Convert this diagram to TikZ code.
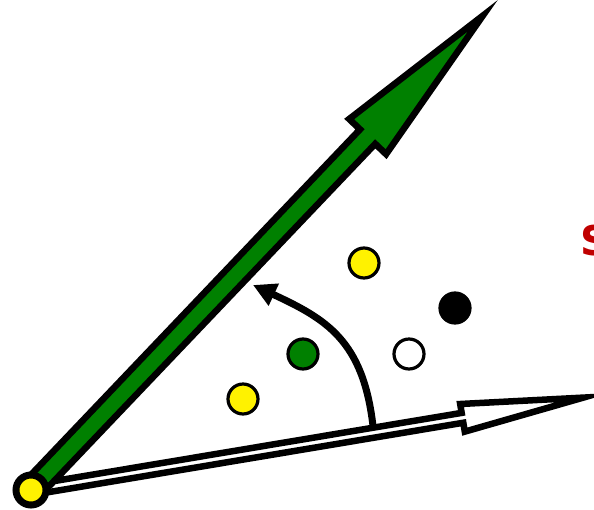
\documentclass[tikz,border=0pt]{standalone}
\usepackage{fontspec}
\newfontfamily\labelfont{DejaVu Sans}
\usetikzlibrary{arrows.meta, calc}
\definecolor{vecgreen}{RGB}{0,128,0}
\definecolor{labelred}{RGB}{192,0,0}

% block arrow: from, to, shaft half width, head length, head half width, style
\newcommand{\blockarrow}[6]{%
  \coordinate (head) at ($(#2)!#4pt!(#1)$);
  \filldraw[line width=6.5pt, #6]
    ($(#1)!#3pt!90:(#2)$) -- ($(head)!#3pt!90:(#2)$) -- ($(head)!#5pt!90:(#2)$)
    -- (#2) -- ($(head)!#5pt!-90:(#2)$) -- ($(head)!#3pt!-90:(#2)$)
    -- ($(#1)!#3pt!-90:(#2)$) -- cycle;
}

\begin{document}
\begin{tikzpicture}[x=1pt, y=-1pt,
  dot/.style={circle, draw, line width=3.2pt, minimum size=30pt, inner sep=0pt}]
  \useasboundingbox (0,0) rectangle (594,509);
  \coordinate (O) at (31,490);
  \coordinate (gtip) at (482.8,15.7);
  \coordinate (wtip) at (583.3,397.6);
  % angle between the vectors
  \coordinate (angstart) at (373,426);
  \coordinate (angend) at (253,285);
  \draw[line width=7pt, -{Triangle[length=23pt, width=23pt]}]
    (angstart) .. controls (363,340) and (326,319) .. (angend);
  % vectors
  \blockarrow{O}{wtip}{5}{122.5}{14}{fill=white}
  \blockarrow{O}{gtip}{10.5}{167}{25.5}{fill=vecgreen}
  \node[dot, line width=7pt, fill=yellow] (origin) at (O) {};
  % points
  \node[dot, fill=yellow] (p1) at (364,263) {};
  \node[dot, fill=black] (p2) at (455,308) {};
  \node[dot, fill=vecgreen] (p3) at (303,354) {};
  \node[dot, fill=white] (p4) at (409,354) {};
  \node[dot, fill=yellow] (p5) at (243,399) {};
  % label
  \node[labelred, anchor=base west, inner sep=0pt,
    font=\labelfont\bfseries\fontsize{41}{41}\selectfont] (lab) at (580,255) {S};
\end{tikzpicture}
\end{document}
